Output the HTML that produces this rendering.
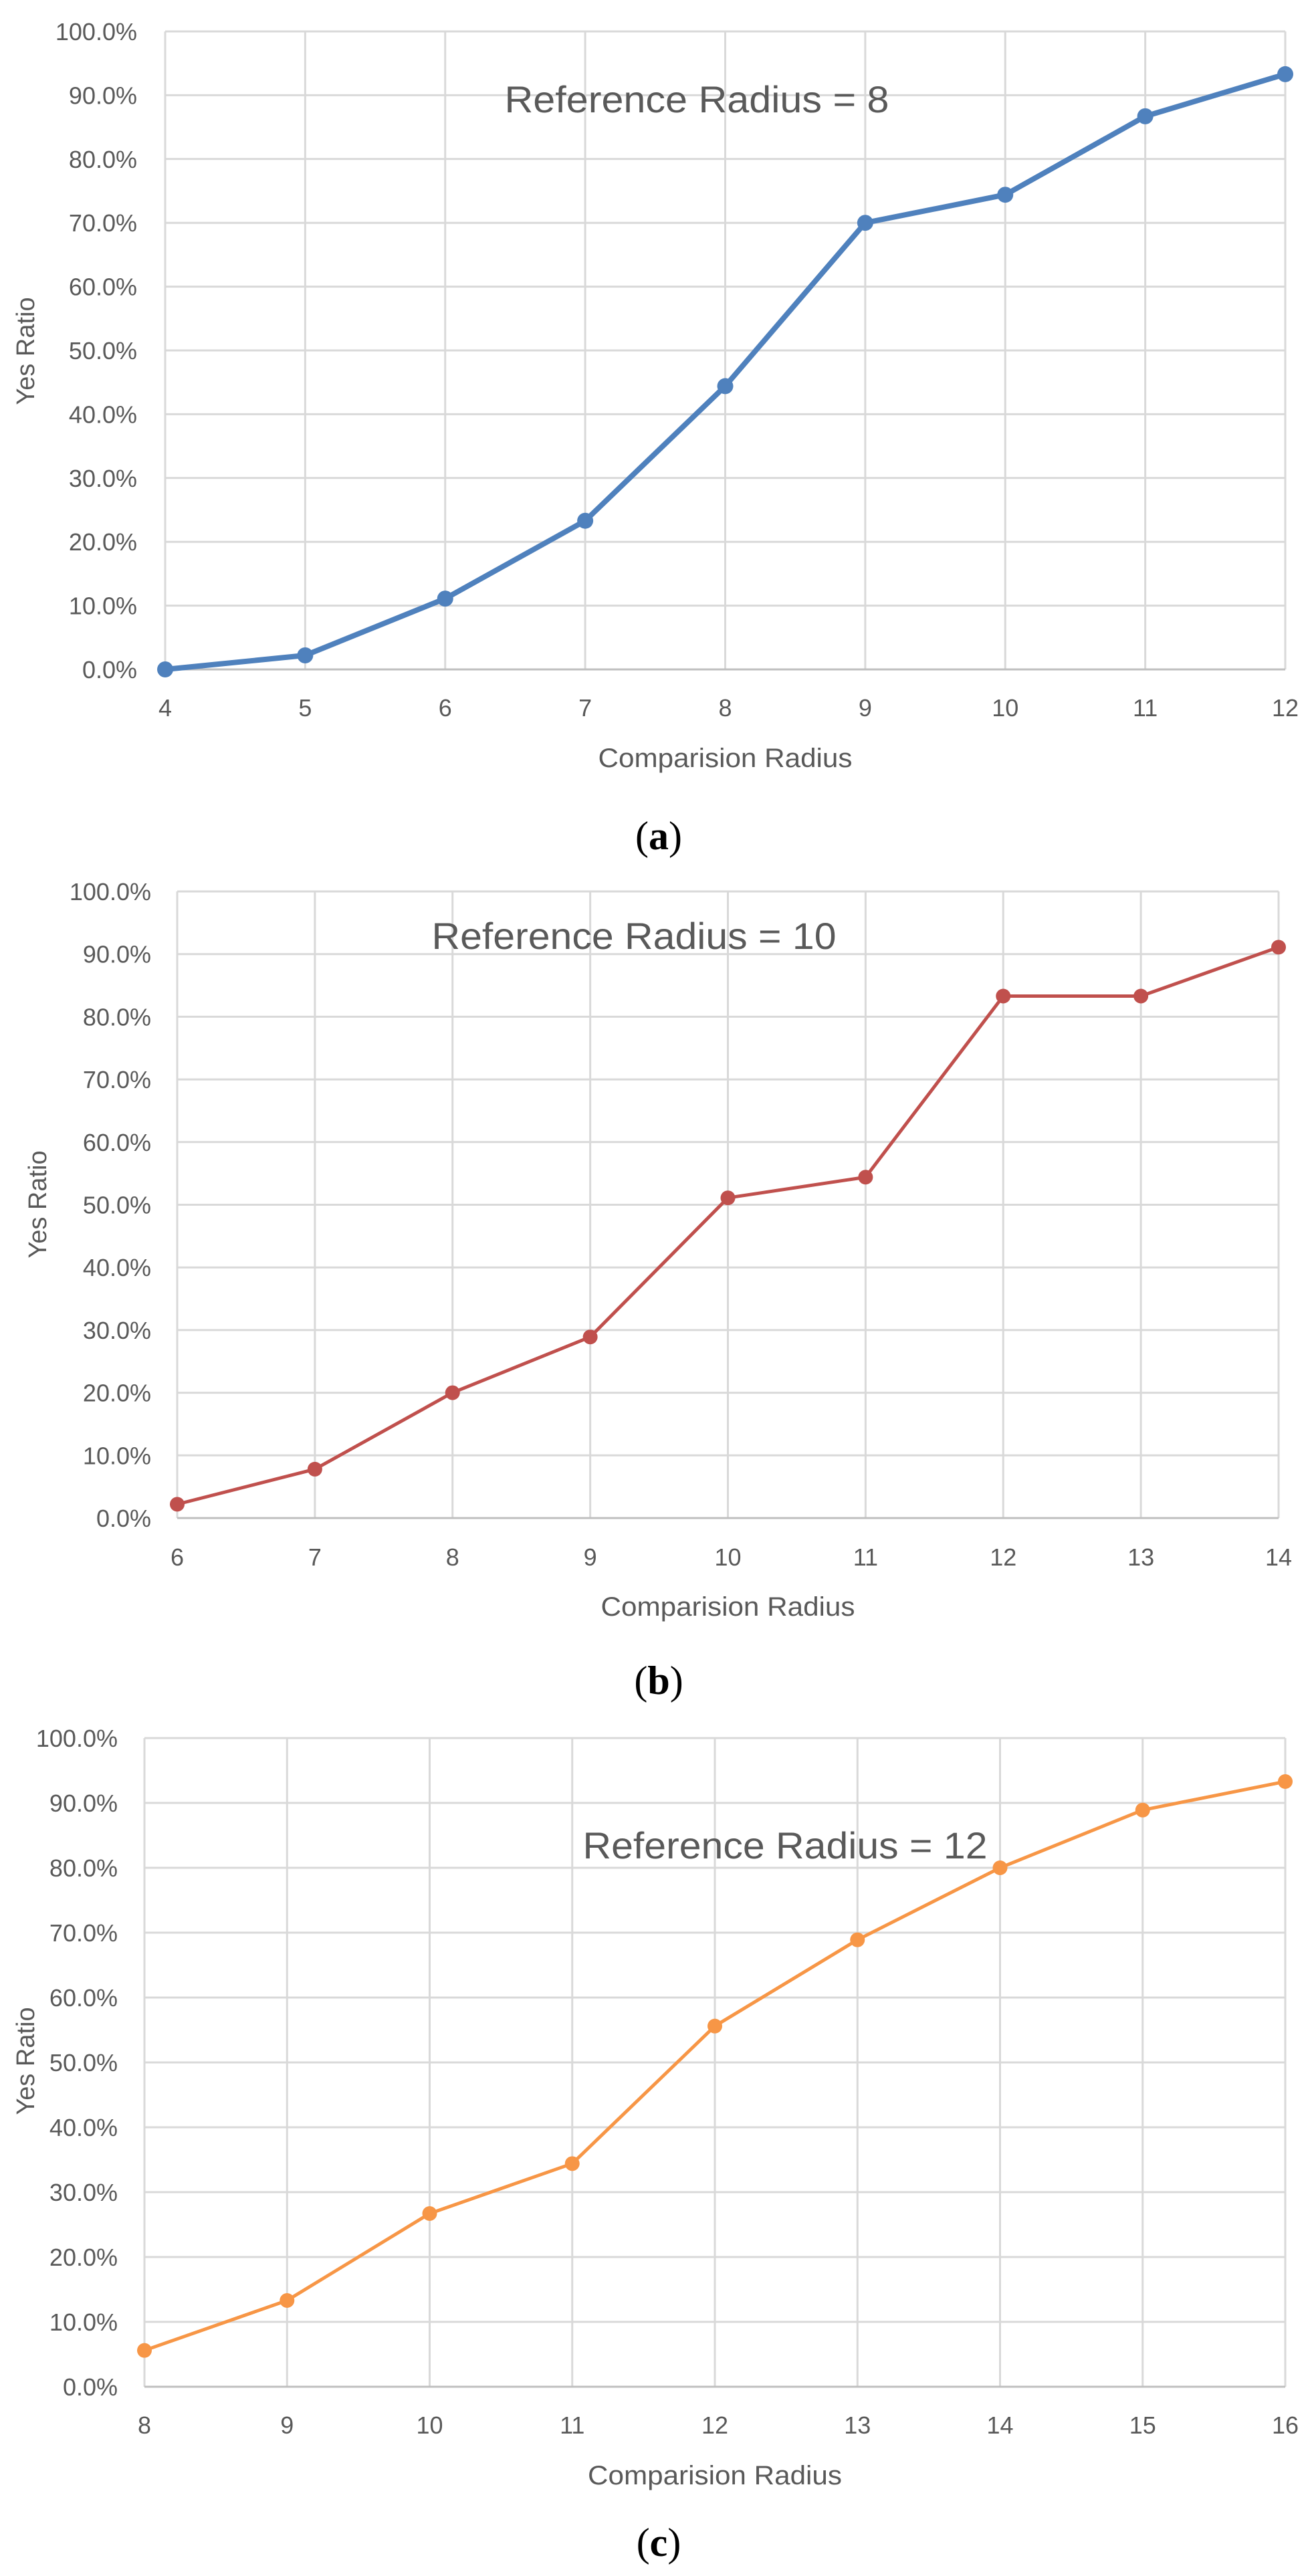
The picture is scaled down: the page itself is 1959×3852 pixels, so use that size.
<!DOCTYPE html>
<html><head><meta charset="utf-8">
<style>
html,body{margin:0;padding:0;background:#fff;}
svg{display:block;}
text{font-family:"Liberation Sans",sans-serif;fill:#595959;}
.cap{font-family:"Liberation Serif",serif;fill:#000;}
</style></head>
<body>
<svg id="fig" width="1959" height="3852" viewBox="0 0 1959 3852" xmlns="http://www.w3.org/2000/svg"></svg>
<script>
const yTicks = [0,10,20,30,40,50,60,70,80,90,100];
const catsA = [4,5,6,7,8,9,10,11,12];
const valsA = [0,2.2,11.1,23.3,44.4,70.0,74.4,86.7,93.3];
const catsB = [6,7,8,9,10,11,12,13,14];
const valsB = [2.2,7.8,20.0,28.9,51.1,54.4,83.3,83.3,91.1];
const catsC = [8,9,10,11,12,13,14,15,16];
const valsC = [5.6,13.3,26.7,34.4,55.6,68.9,80.0,88.9,93.3];

const NS="http://www.w3.org/2000/svg";
const svg=document.getElementById('fig');
function mk(tag,attrs,parent,txt){const e=document.createElementNS(NS,tag);for(const k in attrs)e.setAttribute(k,attrs[k]);if(txt!==undefined)e.textContent=txt;(parent||svg).appendChild(e);return e;}

function chart(cfg){
  const g=mk('g',{});
  
  
  const {L,R,T,B}=cfg;
  const n=cfg.cats.length;
  const xs=i=>L+(R-L)*i/(n-1);
  const ys=v=>B-(B-T)*v/100;
  yTicks.forEach(t=>{
    const ln=mk('line',{x1:L,x2:R,y1:ys(t),y2:ys(t),stroke:'#d9d9d9','stroke-width':3},g);
    
    
    const tx=mk('text',{x:cfg.tickR,y:ys(t)+13,'text-anchor':'end','font-size':36},g,t.toFixed(1)+'%');
    
    
  });
  cfg.cats.forEach((c,i)=>{
    const ln=mk('line',{x1:xs(i),x2:xs(i),y1:T,y2:B,stroke:'#d9d9d9','stroke-width':3},g);
    
    
    const tx=mk('text',{x:xs(i),y:cfg.xLabY+13,'text-anchor':'middle','font-size':36},g,String(c));
    
    
  });
  const ax=mk('line',{x1:L,x2:R,y1:B,y2:B,stroke:'#bfbfbf','stroke-width':3},g);
  
  
  const pts=cfg.vals.map((v,i)=>xs(i)+','+ys(v)).join(' ');
  const pl=mk('polyline',{points:pts,fill:'none',stroke:cfg.color,'stroke-width':cfg.lw,'stroke-linejoin':'round'},g);
  
  
  cfg.vals.forEach((v,i)=>{
    const c=mk('circle',{cx:xs(i),cy:ys(v),r:cfg.mr,fill:cfg.color},g);
    
    
  });
  const tt=mk('text',{x:cfg.titleX,y:cfg.titleY+20,'text-anchor':'middle','font-size':56,textLength:cfg.titleW,lengthAdjust:'spacingAndGlyphs'},g,cfg.title);
  
  
  const xt=mk('text',{x:(L+R)/2,y:cfg.xTitleY+14,'text-anchor':'middle','font-size':40,textLength:380,lengthAdjust:'spacingAndGlyphs'},g,'Comparision Radius');
  
  
  const yt=mk('text',{x:0,y:0,'text-anchor':'middle','font-size':38,transform:`translate(${cfg.yTitleX+13},${cfg.yTitleY}) rotate(-90)`},g,cfg.yTitle);
  
  
  const cp=mk('text',{x:985,y:cfg.capY+20,'text-anchor':'middle','font-size':60,class:'cap'},g);
  
  
  mk('tspan',{},cp,'(');
  mk('tspan',{'font-weight':'bold'},cp,cfg.id);
  mk('tspan',{},cp,')');
}

chart({id:'a',cats:catsA,vals:valsA,color:'#4F81BD',lw:8,mr:12,L:247,R:1922,T:47,B:1001,tickR:205,xLabY:1058,xTitleY:1133,capY:1250,titleX:1042,titleY:148,titleW:575,title:'Reference Radius = 8',yTitle:'Yes  Ratio',yTitleX:38,yTitleY:525});
chart({id:'b',cats:catsB,vals:valsB,color:'#C0504D',lw:5,mr:11,L:265,R:1912,T:1333,B:2270,tickR:226,xLabY:2328,xTitleY:2402,capY:2513,titleX:948,titleY:1399,titleW:605,title:'Reference Radius = 10',yTitle:'Yes Ratio',yTitleX:56,yTitleY:1801});
chart({id:'c',cats:catsC,vals:valsC,color:'#F79646',lw:5,mr:11,L:216,R:1922,T:2599,B:3569,tickR:176,xLabY:3626,xTitleY:3701,capY:3802,titleX:1174,titleY:2759,titleW:605,title:'Reference Radius = 12',yTitle:'Yes Ratio',yTitleX:38,yTitleY:3082});
</script>
</body></html>
